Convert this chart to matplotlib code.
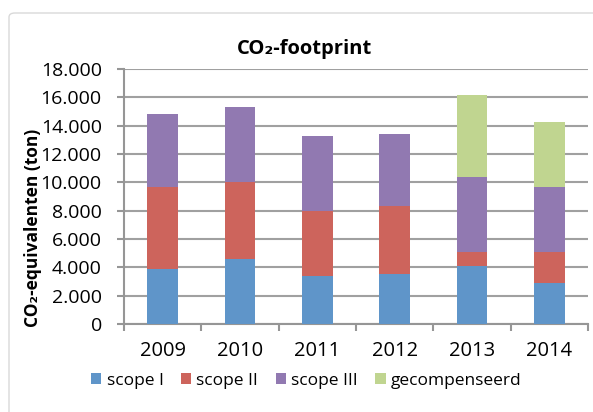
import matplotlib.pyplot as plt
import numpy as np
from matplotlib.patches import FancyBboxPatch

plt.rcParams['font.family'] = ['Open Sans', 'DejaVu Sans']

years = ['2009', '2010', '2011', '2012', '2013', '2014']
scope1 = [3900, 4600, 3400, 3540, 4080, 2870]
scope2 = [5770, 5420, 4550, 4780, 1020, 2230]
scope3 = [5120, 5270, 5300, 5100, 5250, 4570]
gecomp = [0, 0, 0, 0, 5810, 4600]

labels = ['scope I', 'scope II', 'scope III', 'gecompenseerd']
colors = ['#5f95c9', '#cd645c', '#9179b1', '#c0d590']
yticks = np.arange(0, 18001, 2000)
ytick_labels = ['0', '2.000', '4.000', '6.000', '8.000', '10.000', '12.000',
                '14.000', '16.000', '18.000']

fig = plt.figure(figsize=(5.93, 4.12), dpi=100)
# chart border (runs off the right and bottom edge like the original)
fig.patches.append(FancyBboxPatch((9 / 593, -0.05), 1.05, 1 - 13 / 412 + 0.05,
                                  boxstyle='round,pad=0,rounding_size=0.01',
                                  transform=fig.transFigure, fill=False,
                                  edgecolor='#d9d9d9', linewidth=1))

ax = fig.add_axes([124 / 593, 1 - 324 / 412, (588 - 124) / 593, (324 - 69) / 412])

x = np.arange(len(years))
bottom = np.zeros(len(years))
for vals, lab, col in zip([scope1, scope2, scope3, gecomp], labels, colors):
    ax.bar(x, vals, 0.4, bottom=bottom, color=col, label=lab, zorder=3)
    bottom += np.array(vals)

ax.set_xlim(-0.5, len(years) - 0.5)
ax.set_ylim(0, 18000)
ax.set_yticks(yticks)
ax.set_yticklabels(ytick_labels, fontsize=14)
ax.set_xticks(x)
ax.set_xticklabels(years, fontsize=14.5)
ax.set_xticks(np.arange(-0.5, len(years), 1), minor=True)
ax.tick_params(axis='x', which='major', length=0, pad=12)
ax.tick_params(axis='x', which='minor', length=5, color='#969696', width=1.5)
ax.tick_params(axis='y', length=5, color='#969696', width=1.5, pad=11)
ax.grid(axis='y', color='#a0a0a0', linewidth=1.5, zorder=0)
for s in ['top', 'right']:
    ax.spines[s].set_visible(False)
for s in ['left', 'bottom']:
    ax.spines[s].set_color('#969696')
    ax.spines[s].set_linewidth(1.5)

fig.text(304 / 593, 1 - 49 / 412, 'CO\u2082-footprint', fontsize=14.5, fontweight='bold',
         ha='center', va='center')
fig.text(33 / 593, 1 - 228 / 412, 'CO\u2082-equivalenten (ton)', fontsize=12.5,
         fontweight='bold', rotation=90, ha='center', va='center')

leg = fig.legend(loc='center left', bbox_to_anchor=(84 / 593, 1 - 381 / 412), ncol=4,
                 frameon=False, fontsize=12.5, handlelength=0.6, handleheight=0.6,
                 handletextpad=0.3, columnspacing=1.0, borderaxespad=0)

fig.savefig('out.png', dpi=100)
